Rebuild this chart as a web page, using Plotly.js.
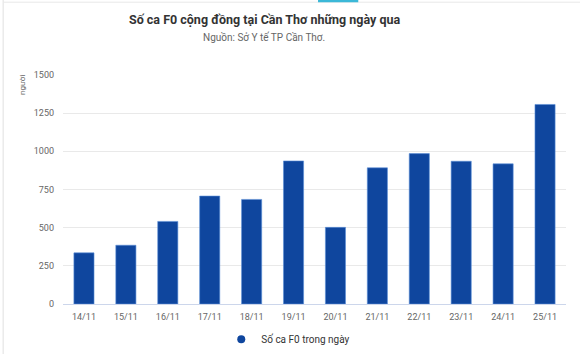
<!DOCTYPE html>
<html>
<head>
<meta charset="utf-8">
<script src="https://cdn.plot.ly/plotly-3.0.1.min.js"></script>
<style>html,body{margin:0;padding:0;background:#fff;}#chart{width:580px;height:354px;}</style>
</head>
<body>
<div id="chart"></div>
<script>
const categories = ["14/11","15/11","16/11","17/11","18/11","19/11","20/11","21/11","22/11","23/11","24/11","25/11"];
const cases = [335, 385, 541, 707, 685, 937, 502, 892, 985, 935, 918, 1307];
const seriesName = "Số ca F0 trong ngày";
const yTicks = [0, 250, 500, 750, 1000, 1250, 1500];
const titleText = "Số ca F0 cộng đồng tại Cần Thơ những ngày qua";
const subtitleText = "Nguồn: Sở Y tế TP Cần Thơ.";
const yUnit = "người";

const barColor = "#0f469e";
const traces = [
  {
    type: "bar", x: categories, y: cases, name: seriesName, showlegend: false,
    marker: {color: barColor, line: {color: "#5b8fd6", width: 0.6}},
    hoverinfo: "x+y"
  },
  {
    type: "scatter", mode: "markers", x: [null], y: [null], name: seriesName,
    marker: {color: barColor, size: 8, symbol: "circle"}, showlegend: true
  }
];
const layout = {
  width: 580, height: 354,
  margin: {l: 63, r: 14, t: 75, b: 50, autoexpand: false},
  paper_bgcolor: "#ffffff", plot_bgcolor: "#ffffff",
  font: {family: "Roboto, 'Open Sans', sans-serif", color: "#666666", size: 9},
  bargap: 0.52,
  showlegend: true,
  legend: {orientation: "h", xref: "container", yref: "container", x: 0.497, xanchor: "center",
           y: 0.042, yanchor: "middle", font: {size: 10, color: "#333333"}, itemwidth: 20},
  xaxis: {type: "category", tickvals: categories, ticktext: categories, range: [-0.5, 11.5],
          showgrid: false, showline: true, linecolor: "#ccd6eb", linewidth: 1,
          ticks: "", ticklabelstandoff: 4, tickfont: {size: 9, color: "#666666"}, fixedrange: true, zeroline: false},
  yaxis: {range: [0, 1500], tickvals: yTicks, ticktext: yTicks.map(String),
          showgrid: true, gridcolor: "#e9e9e9", gridwidth: 1, zeroline: false,
          ticks: "", ticklabelstandoff: 8, tickfont: {size: 9, color: "#666666"}, fixedrange: true},
  annotations: [
    {text: "<b>" + titleText + "</b>", xref: "paper", yref: "paper", x: 0.4, y: 1, yshift: 56,
     xanchor: "center", yanchor: "middle", showarrow: false,
     font: {size: 12.5, color: "#333333", family: "Roboto, 'Open Sans', sans-serif"}},
    {text: subtitleText, xref: "paper", yref: "paper", x: 0.4, y: 1, yshift: 38,
     xanchor: "center", yanchor: "middle", showarrow: false,
     font: {size: 10, color: "#666666"}},
    {text: yUnit, xref: "paper", yref: "paper", x: 0, xshift: -41, y: 1, yshift: -10,
     xanchor: "center", yanchor: "middle", textangle: -90, showarrow: false,
     font: {size: 8, color: "#666666"}}
  ],
  shapes: [
    {type: "line", xref: "paper", yref: "paper", x0: -0.119, x1: -0.119, y0: -0.22, y1: 1.33,
     line: {color: "#e0e0e0", width: 1}},
    {type: "line", xref: "paper", yref: "paper", x0: -0.119, x1: 1.03, y0: 1.318, y1: 1.318,
     line: {color: "#e8e8e8", width: 1}},
    {type: "line", xref: "paper", yref: "paper", x0: 0.507, x1: 0.587, y0: 1.323, y1: 1.323,
     line: {color: "#3bb8d8", width: 2.5}}
  ]
};
Plotly.newPlot("chart", traces, layout, {displayModeBar: false, staticPlot: true});
</script>
</body>
</html>
